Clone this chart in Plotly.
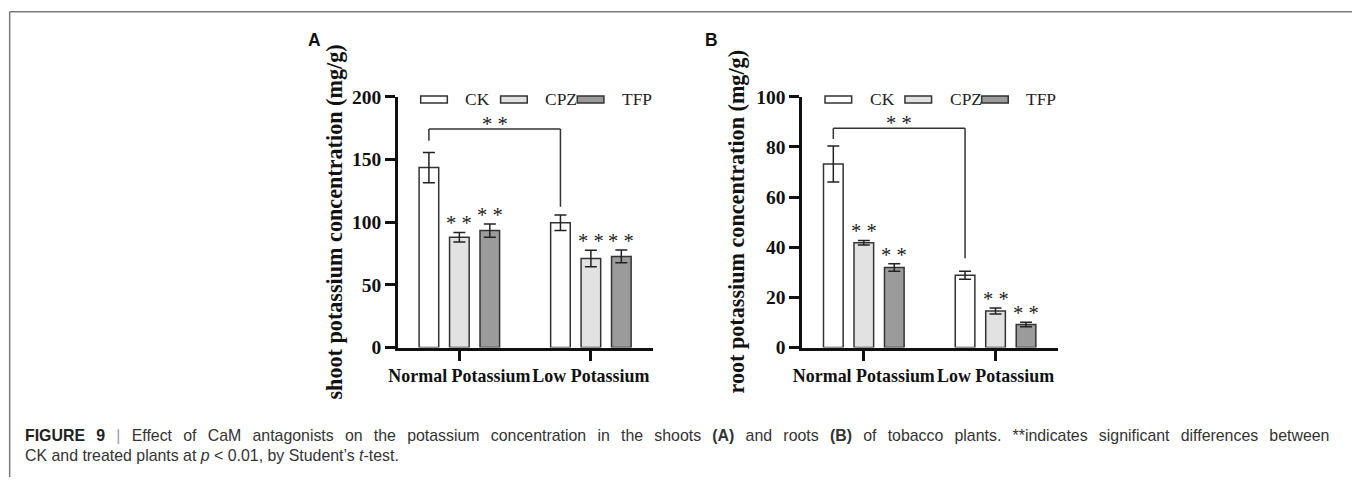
import plotly.graph_objects as go

W, H = 1352, 488
# The page is shown with the browser's default 8px body margin and the whole
# page is then fitted into the 1352x488 picture, so target pixel positions are
# mapped back into figure pixels here.
PAD = 8
SX = (W + 2 * PAD) / W
SY = (H + 2 * PAD) / H
FS = 1.026

categories = ["Normal Potassium", "Low Potassium"]
series_names = ["CK", "CPZ", "TFP"]
series_colors = ["#ffffff", "#e2e2e2", "#9b9b9b"]

# Panel A: shoots
shoot_ck = [143.5, 99.5]
shoot_ck_err = [12.0, 6.2]
shoot_cpz = [88.0, 71.0]
shoot_cpz_err = [3.8, 6.5]
shoot_tfp = [93.3, 72.7]
shoot_tfp_err = [5.3, 5.0]

# Panel B: roots
root_ck = [73.2, 28.8]
root_ck_err = [7.2, 1.6]
root_cpz = [41.8, 14.6]
root_cpz_err = [0.9, 1.2]
root_tfp = [31.9, 9.2]
root_tfp_err = [1.5, 0.85]

# significance flags (per series) shown above treated bars
sig_marks = ["", "* *", "* *"]

# bracket between CK bars: [left end, top, right end]
shoot_bracket = [165.0, 174.3, 112.3]
root_bracket = [83.1, 87.4, 35.6]

shoot_ticks = [0, 50, 100, 150, 200]
root_ticks = [0, 20, 40, 60, 80, 100]

# caption segments: (text, bold, italic, colour)
caption_line1 = [("FIGURE 9", True, False, "#222222"), (" ", False, False, None),
                 ("|", False, False, "#9a9a9a"),
                 (" Effect of CaM antagonists on the potassium concentration in the shoots ", False, False, None),
                 ("(A)", True, False, None), (" and roots ", False, False, None), ("(B)", True, False, None),
                 (" of tobacco plants. **indicates significant differences between", False, False, None)]
caption_line2 = [("CK and treated plants at ", False, False, None), ("p", False, True, None),
                 (" &lt; 0.01, by Student’s ", False, False, None), ("t", False, True, None),
                 ("-test.", False, False, None)]


def rich(segments, word_spacing):
    out = ""
    for text, bold, italic, colour in segments:
        style = "word-spacing:%.1fpx" % word_spacing
        if colour:
            style += ";color:%s" % colour
        piece = "<span style='%s'>%s</span>" % (style, text)
        if bold:
            piece = "<b>" + piece + "</b>"
        if italic:
            piece = "<i>" + piece + "</i>"
        out += piece
    return out


def X(px):
    return (px * SX - PAD) / W


def Y(py):
    return 1 - (py * SY - PAD) / H


def F(size):
    return round(size * FS, 2)


SERIF = "Times New Roman, Liberation Serif, serif"
SANS = "Liberation Sans, Arial, Helvetica, sans-serif"

BARGAP = 0.3056
BARGROUPGAP = 0.356
XRANGE = [-0.466, 1.475]

panels = [
    dict(name="A", xdom=[395.0, 649.0], ymax=200, ticks=shoot_ticks,
         vals=[shoot_ck, shoot_cpz, shoot_tfp], errs=[shoot_ck_err, shoot_cpz_err, shoot_tfp_err],
         bracket=shoot_bracket, title="shoot potassium concentration (mg/g)",
         title_x=332, letter_x=312),
    dict(name="B", xdom=[797.3, 1051.7], ymax=100, ticks=root_ticks,
         vals=[root_ck, root_cpz, root_tfp], errs=[root_ck_err, root_cpz_err, root_tfp_err],
         bracket=root_bracket, title="root potassium concentration (mg/g)",
         title_x=732, letter_x=707),
]

fig = go.Figure()
shapes = []
annotations = []

y_bottom_px, y_top_px = 349.3, 95.5
slot = (1 - BARGAP) / 3

for i, p in enumerate(panels):
    sfx = "" if i == 0 else str(i + 1)
    xa, ya = "x" + sfx, "y" + sfx
    for s in range(3):
        fig.add_trace(go.Bar(
            x=categories, y=p["vals"][s], name=series_names[s],
            marker=dict(color=series_colors[s], line=dict(color="#333333", width=1.5)),
            error_y=dict(type="data", array=p["errs"][s], visible=True,
                         color="#222222", thickness=1.5, width=6),
            xaxis=xa, yaxis=ya, showlegend=False,
        ))
        if sig_marks[s]:
            for c in range(len(categories)):
                annotations.append(dict(
                    x=c + (s - 1) * slot, y=p["vals"][s][c] + p["errs"][s][c],
                    xref=xa, yref=ya, text=sig_marks[s], showarrow=False,
                    yanchor="bottom", yshift=-4,
                    font=dict(family=SERIF, size=F(20), color="#1a1a1a")))
    # bracket
    bl, bt, br = p["bracket"]
    xl, xr = 0 - slot, 1 - slot
    for (x0, y0, x1, y1) in [(xl, bl, xl, bt), (xl, bt, xr, bt), (xr, bt, xr, br)]:
        shapes.append(dict(type="line", xref=xa, yref=ya, x0=x0, y0=y0, x1=x1, y1=y1,
                           line=dict(color="#333333", width=1.5)))
    annotations.append(dict(x=(xl + xr) / 2, y=bt, xref=xa, yref=ya, text="* *", showarrow=False,
                            yanchor="bottom", yshift=-8,
                            font=dict(family=SERIF, size=F(20), color="#1a1a1a")))
    # axes
    fig.update_layout(**{
        "xaxis" + sfx: dict(domain=[X(p["xdom"][0]), X(p["xdom"][1])], range=XRANGE,
                            anchor=ya, showline=True, linecolor="#111111", linewidth=3,
                            ticks="outside", ticklen=10, tickwidth=3, tickcolor="#111111",
                            showgrid=False, zeroline=False, type="category", tickangle=0,
                            tickvals=categories, ticktext=["<b>" + c + "</b>" for c in categories],
                            tickfont=dict(family=SERIF, size=F(17.5), color="#111111")),
        "yaxis" + sfx: dict(domain=[Y(y_bottom_px), Y(y_top_px)], range=[0, p["ymax"]],
                            anchor=xa, showline=True, linecolor="#111111", linewidth=3,
                            ticks="outside", ticklen=10, tickwidth=3, tickcolor="#111111",
                            tickvals=p["ticks"], ticktext=["<b>%d</b>" % t for t in p["ticks"]],
                            showgrid=False, zeroline=False,
                            tickfont=dict(family=SERIF, size=F(19), color="#111111")),
    })
    # y title
    annotations.append(dict(x=X(p["title_x"]), y=Y(222), xref="paper", yref="paper",
                            text="<b>" + p["title"] + "</b>", textangle=-90, showarrow=False,
                            xanchor="center", yanchor="middle",
                            font=dict(family=SERIF, size=F(21.6), color="#111111")))
    # panel letter
    annotations.append(dict(x=X(p["letter_x"]), y=Y(38), xref="paper", yref="paper",
                            text="<b>" + p["name"] + "</b>", showarrow=False,
                            xanchor="center", yanchor="middle",
                            font=dict(family=SANS, size=F(17), color="#111111")))
    # custom legend
    x0 = p["xdom"][0]
    for s, off in enumerate([22.5, 102.0, 178.3]):
        rx = x0 + off
        shapes.append(dict(type="rect", xref="paper", yref="paper",
                           x0=X(rx), x1=X(rx + 26.5), y0=Y(101.8), y1=Y(94.8),
                           fillcolor=series_colors[s], line=dict(color="#333333", width=1.5)))
        annotations.append(dict(x=X(rx + 42.5), y=Y(98.3), xref="paper", yref="paper",
                                text=series_names[s], showarrow=False,
                                xanchor="left", yanchor="middle",
                                font=dict(family=SERIF, size=F(17), color="#222222")))

# frame
shapes.append(dict(type="line", xref="paper", yref="paper", x0=0.0005, x1=1, y0=Y(9.5), y1=Y(9.5),
                   line=dict(color="#7a7a7a", width=1.5)))
shapes.append(dict(type="line", xref="paper", yref="paper", x0=0.0005, x1=0.0005, y0=Y(9.5), y1=0,
                   line=dict(color="#7a7a7a", width=1.5)))
shapes.append(dict(type="line", xref="paper", yref="paper", x0=X(1351), x1=X(1351), y0=Y(9.5), y1=0,
                   line=dict(color="#e0e0e0", width=1)))

# caption
annotations.append(dict(x=X(22), y=Y(438), xref="paper", yref="paper", text=rich(caption_line1, 6.8),
                        showarrow=False, xanchor="left", yanchor="middle", align="left",
                        font=dict(family=SANS, size=F(15.5), color="#333333")))
annotations.append(dict(x=X(22), y=Y(459), xref="paper", yref="paper", text=rich(caption_line2, 0),
                        showarrow=False, xanchor="left", yanchor="middle", align="left",
                        font=dict(family=SANS, size=F(15.5), color="#333333")))

fig.update_layout(
    width=W, height=H, margin=dict(l=0, r=0, t=0, b=0),
    paper_bgcolor="white", plot_bgcolor="white",
    barmode="group", bargap=BARGAP, bargroupgap=BARGROUPGAP,
    shapes=shapes, annotations=annotations, showlegend=False,
)

fig.write_html("out.html")
